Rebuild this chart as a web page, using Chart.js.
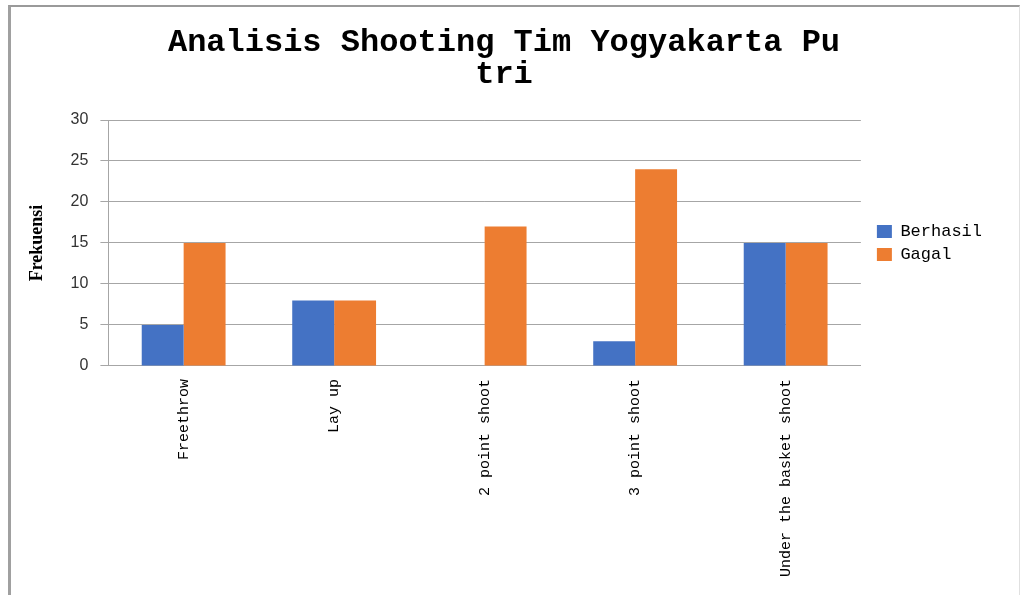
<!DOCTYPE html>
<html>
<head>
<meta charset="utf-8">
<script src="https://cdn.jsdelivr.net/npm/chart.js@4"></script>
<style>
  body { margin: 0; background: #fff; }
  #wrap { position: relative; width: 1023px; height: 595px; overflow: hidden; }
  #frame { position: absolute; left: 8px; top: 5px; width: 1012px; height: 600px;
           border-top: 2px solid #9a9a9a; border-left: 3px solid #a0a0a0; border-right: 1px solid #e0e0e0; box-sizing: border-box; }
  canvas { position: absolute; left: 0; top: 0; }
</style>
</head>
<body>
<div id="wrap">
  <div id="frame"></div>
  <canvas id="grafikShooting" width="1023" height="595"></canvas>
</div>
<script>
// data
const kategori = ['Freethrow', 'Lay up', '2 point shoot', '3 point shoot', 'Under the basket shoot'];
const dataBerhasil = [5, 8, 0, 3, 15];
const dataGagal = [15, 8, 17, 24, 15];
const judul = ['Analisis Shooting Tim Yogyakarta Pu', 'tri'];

const warnaGrid = '#a6a6a6';

let chartShooting = new Chart(document.getElementById('grafikShooting').getContext('2d'), {
    type: 'bar',
    data: {
        labels: kategori,
        datasets: [{
            label: 'Berhasil',
            data: dataBerhasil,
            backgroundColor: '#4472C4',
            borderWidth: 0
        }, {
            label: 'Gagal',
            data: dataGagal,
            backgroundColor: '#ED7D31',
            borderWidth: 0
        }]
    },
    options: {
        responsive: false,
        animation: false,
        layout: {
            padding: { left: 16, top: 8, right: 31, bottom: 5 }
        },
        datasets: {
            bar: {
                categoryPercentage: 0.557,
                barPercentage: 1
            }
        },
        scales: {
            x: {
                grid: { display: true, drawOnChartArea: false, drawTicks: false },
                border: { color: warnaGrid, width: 1 },
                ticks: {
                    minRotation: 90,
                    maxRotation: 90,
                    padding: 13,
                    color: '#000',
                    font: { family: '"Liberation Mono", "DejaVu Sans Mono", monospace', size: 15 }
                }
            },
            y: {
                min: 0,
                max: 30,
                ticks: {
                    stepSize: 5,
                    padding: 12,
                    color: '#333',
                    font: { family: '"Liberation Sans", Arial, sans-serif', size: 16 }
                },
                grid: { color: warnaGrid, tickLength: 8 },
                border: { color: warnaGrid, width: 1 },
                title: {
                    display: true,
                    text: 'Frekuensi',
                    color: '#000',
                    padding: { top: 11, bottom: 10 },
                    font: { family: '"Liberation Serif", "DejaVu Serif", serif', size: 18, weight: 'bold' }
                }
            },
            // sumbu kosong, cuma buat jarak antara plot dan legenda
            spacer: {
                position: 'right',
                display: true,
                grid: { display: false },
                border: { display: false },
                ticks: { display: false },
                afterFit: function(scale) { scale.width = 10; }
            }
        },
        plugins: {
            title: {
                display: true,
                text: judul,
                color: '#000',
                padding: { top: 19, bottom: 29 },
                font: { family: '"Liberation Mono", "DejaVu Sans Mono", monospace', size: 32, weight: 'bold', lineHeight: 1.0 }
            },
            legend: {
                position: 'right',
                fullSize: false,
                labels: {
                    boxWidth: 15,
                    boxHeight: 13,
                    padding: 6,
                    color: '#000',
                    font: { family: '"Liberation Mono", "DejaVu Sans Mono", monospace', size: 17 }
                }
            },
            tooltip: { enabled: false }
        }
    }
});
</script>
</body>
</html>
